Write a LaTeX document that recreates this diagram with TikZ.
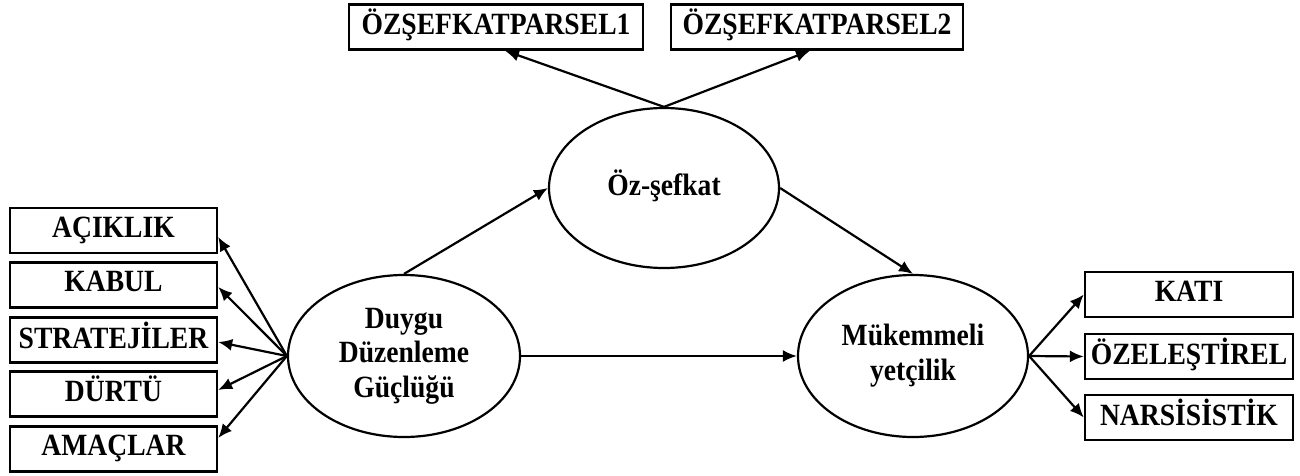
\documentclass[tikz,border=0pt]{standalone}
\usepackage{fontspec}
\usepackage{graphicx}
\setmainfont{Liberation Serif}
\usetikzlibrary{arrows.meta,shapes.geometric}
\newcommand\tallbox[1]{\scalebox{1}[1.12]{\begin{tabular}{@{}c@{}}#1\end{tabular}}}
\tikzset{
  ind/.style={draw,line width=1.2pt,minimum width=103.5pt,minimum height=22.5pt,inner sep=0pt,
    font=\bfseries\fontsize{13.8}{15.6}\selectfont},
  lat/.style={draw,ellipse,line width=1.1pt,inner sep=0pt,
    font=\bfseries\fontsize{13.8}{15.6}\selectfont},
  arr/.style={-{Latex[length=7pt,width=6pt]},line width=1.1pt}
}
\begin{document}
\begin{tikzpicture}[x=0.5pt,y=-0.5pt]
    \useasboundingbox (0,0) rectangle (1300,476);
    % latent variables
    \node[lat,minimum width=115pt,minimum height=80pt] (oz) at (664,188) {\tallbox{Öz-şefkat}};
    \node[lat,minimum width=116pt,minimum height=81pt] (dd) at (404,356) {\tallbox{Duygu\\Düzenleme\\Güçlüğü}};
    \node[lat,minimum width=115pt,minimum height=81pt] (mk) at (913,356) {\tallbox{Mükemmeli\\yetçilik}};
    % parcels
    \node[ind,minimum width=147pt] (p1) at (496,27) {\tallbox{ÖZŞEFKATPARSEL1}};
    \node[ind,minimum width=146pt] (p2) at (817,27) {\tallbox{ÖZŞEFKATPARSEL2}};
    \draw[arr] (oz.north) -- ([xshift=4.5pt]p1.south);
    \draw[arr] (oz.north) -- ([xshift=-3.5pt]p2.south);
    % left indicators
    \foreach \n/\y/\s/\t in {acik/230.5/-3.25/AÇIKLIK,kabul/285/-1/KABUL,strat/340/-1/STRATEJİLER,durtu/394/2/DÜRTÜ,amac/449/5.5/AMAÇLAR} {
      \node[ind] (\n) at (113.5,\y) {\tallbox{\t}};
      \draw[arr] (dd.west) -- ([yshift=\s pt]\n.east);
    }
    % right indicators
    \foreach \n/\y/\t in {kati/294.5/KATI,ozel/356.5/ÖZELEŞTİREL,nars/417.5/NARSİSİSTİK} {
      \node[ind,minimum width=104pt] (\n) at (1189,\y) {\tallbox{\t}};
      \draw[arr] (mk.east) -- (\n.west);
    }
    % structural paths
    \draw[arr] (dd.north) -- (oz.west);
    \draw[arr] (oz.east) -- (mk.north);
    \draw[arr] (dd.east) -- (mk.west);
  \end{tikzpicture}
\end{document}
